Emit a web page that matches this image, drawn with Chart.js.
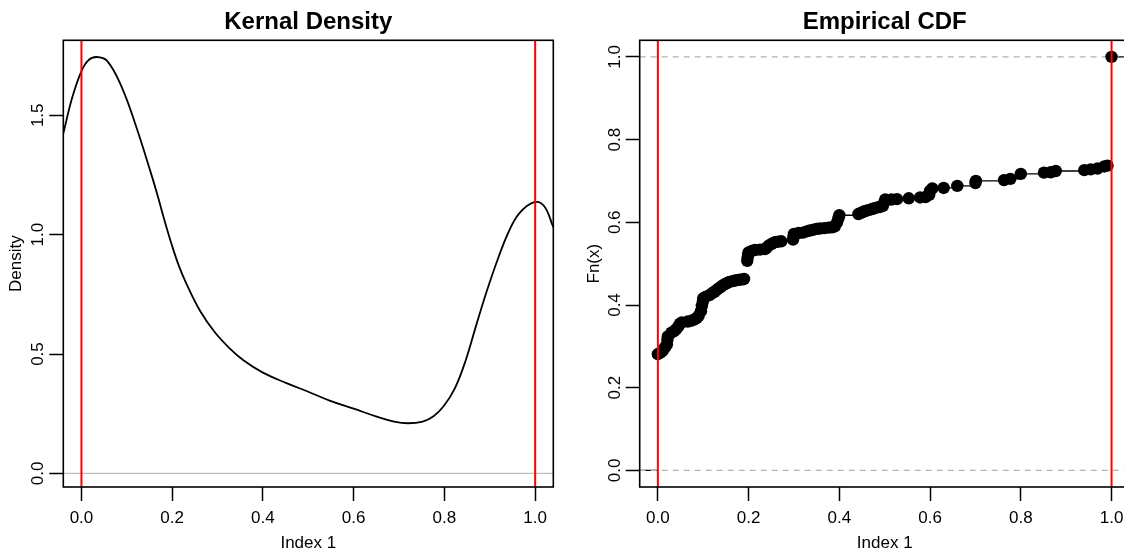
<!DOCTYPE html>
<html><head><meta charset="utf-8">
<script src="https://cdn.jsdelivr.net/npm/chart.js@4/dist/chart.umd.min.js"></script>
<style>
html,body{margin:0;padding:0;background:#fff;overflow:hidden;width:1124px;height:548px;position:relative;}
#wrapL{position:absolute;left:0;top:0;width:562px;height:548px;}
#wrapR{position:absolute;left:562px;top:0;width:600px;height:548px;}
canvas{display:block;}
</style></head><body>
<div id="wrapL"><canvas id="cL" width="562" height="548"></canvas></div>
<div id="wrapR"><canvas id="cR" width="600" height="548"></canvas></div>
<script>
// ---- texts ----
const densityTitle = 'Kernal Density';
const ecdfTitle = 'Empirical CDF';
const xAxisLabel = 'Index 1';
const densityYLabel = 'Density';
const ecdfYLabel = 'Fn(x)';

// ---- ticks ----
const xTicks = [0, 0.2, 0.4, 0.6, 0.8, 1.0];
const densityYTicks = [0, 0.5, 1.0, 1.5];
const ecdfYTicks = [0, 0.2, 0.4, 0.6, 0.8, 1.0];

// ---- kernel density curve ----
const densityX = [-0.04, -0.02, 0, 0.015, 0.033, 0.057, 0.089, 0.12, 0.152, 0.168, 0.183, 0.2, 0.215, 0.231, 0.262, 0.294, 0.326, 0.357, 0.4, 0.452, 0.5, 0.547, 0.6, 0.649, 0.689, 0.72, 0.752, 0.776, 0.799, 0.823, 0.847, 0.87, 0.894, 0.918, 0.941, 0.965, 0.998, 1.02, 1.04];
const densityY = [1.424, 1.576, 1.685, 1.73, 1.744, 1.727, 1.617, 1.456, 1.265, 1.163, 1.06, 0.952, 0.868, 0.796, 0.679, 0.591, 0.525, 0.474, 0.422, 0.378, 0.342, 0.305, 0.271, 0.239, 0.217, 0.21, 0.217, 0.239, 0.283, 0.356, 0.474, 0.62, 0.767, 0.899, 1.009, 1.089, 1.136, 1.119, 1.031];

// ---- empirical CDF ----
const ecdfX = [0, 0.006, 0.011, 0.016, 0.02, 0.021, 0.022, 0.03, 0.036, 0.04, 0.045, 0.049, 0.053, 0.066, 0.074, 0.081, 0.086, 0.09, 0.095, 0.097, 0.099, 0.1, 0.106, 0.114, 0.12, 0.125, 0.129, 0.134, 0.139, 0.144, 0.149, 0.154, 0.158, 0.166, 0.173, 0.18, 0.187, 0.19, 0.197, 0.198, 0.199, 0.2, 0.207, 0.214, 0.225, 0.236, 0.24, 0.245, 0.251, 0.258, 0.265, 0.272, 0.298, 0.299, 0.3, 0.31, 0.32, 0.328, 0.335, 0.343, 0.35, 0.357, 0.367, 0.376, 0.384, 0.39, 0.395, 0.398, 0.4, 0.442, 0.448, 0.454, 0.46, 0.466, 0.472, 0.478, 0.484, 0.49, 0.496, 0.499, 0.501, 0.515, 0.527, 0.553, 0.578, 0.59, 0.598, 0.6, 0.605, 0.63, 0.66, 0.7, 0.701, 0.763, 0.777, 0.8, 0.851, 0.866, 0.877, 0.94, 0.954, 0.969, 0.984, 0.991, 1];
const ecdfY = [0.281, 0.285, 0.29, 0.298, 0.305, 0.316, 0.324, 0.333, 0.337, 0.341, 0.348, 0.355, 0.358, 0.36, 0.362, 0.365, 0.369, 0.374, 0.385, 0.398, 0.408, 0.416, 0.42, 0.424, 0.429, 0.432, 0.436, 0.44, 0.444, 0.448, 0.451, 0.454, 0.456, 0.458, 0.46, 0.461, 0.462, 0.463, 0.507, 0.515, 0.522, 0.527, 0.531, 0.533, 0.534, 0.535, 0.539, 0.544, 0.548, 0.552, 0.553, 0.554, 0.558, 0.565, 0.572, 0.574, 0.575, 0.578, 0.58, 0.582, 0.584, 0.585, 0.586, 0.587, 0.588, 0.59, 0.6, 0.61, 0.617, 0.62, 0.623, 0.626, 0.628, 0.63, 0.632, 0.634, 0.636, 0.637, 0.64, 0.648, 0.655, 0.655, 0.656, 0.658, 0.66, 0.661, 0.666, 0.676, 0.682, 0.683, 0.688, 0.695, 0.7, 0.702, 0.705, 0.717, 0.72, 0.721, 0.724, 0.726, 0.728, 0.73, 0.735, 0.737, 1.0];

// ---- reference lines ----
const markerLines = [0, 1];        // red verticals
const densityRefLevel = [0];       // gray solid horizontal
const ecdfRefLevels = [0, 1];      // gray dashed horizontals

// ---- axis ranges ----
const xRange = [-0.04, 1.04];
const densityYRange = [-0.057, 1.814];
const ecdfYRange = [-0.04, 1.04];

const FONT = '"Liberation Sans", Arial, Helvetica, sans-serif';

const rPlot = {
  id: 'rPlot',
  afterDraw(chart, args, opts) {
    const {ctx, chartArea: a} = chart;
    const ys = chart.scales.y;
    ctx.save();
    ctx.strokeStyle = '#000';
    ctx.lineWidth = 1.6;
    ctx.strokeRect(a.left, a.top, a.right - a.left, a.bottom - a.top);
    ctx.fillStyle = '#000';
    ctx.font = '17px ' + FONT;
    ctx.textAlign = 'center';
    ctx.textBaseline = 'alphabetic';
    ys.ticks.forEach(t => {
      const y = ys.getPixelForValue(t.value);
      ctx.save();
      ctx.translate(a.left - 20, y);
      ctx.rotate(-Math.PI / 2);
      ctx.fillText(Number(t.value).toFixed(1), 0, 0);
      ctx.restore();
    });
    ctx.font = 'bold 24px ' + FONT;
    ctx.fillText(opts.title, (a.left + a.right) / 2, 29);
    ctx.restore();
  }
};

function xScaleOpts() {
  return {
    type: 'linear', min: xRange[0], max: xRange[1],
    afterBuildTicks: s => { s.ticks = xTicks.map(v => ({value: v})); },
    afterFit: s => { s.height = 61; },
    ticks: {autoSkip: false, maxRotation: 0, minRotation: 0, padding: 7, color: '#000',
            font: {family: FONT, size: 17}, callback: v => Number(v).toFixed(1)},
    grid: {display: true, drawOnChartArea: false, drawTicks: true, tickLength: 14,
           tickWidth: 1.5, tickColor: '#000', color: '#000'},
    border: {display: false},
    title: {display: true, text: xAxisLabel, color: '#000',
            font: {family: FONT, size: 17, lineHeight: 0.6}, padding: 0}
  };
}
function yScaleOpts(range, ticks, width, label, titlePad) {
  return {
    type: 'linear', min: range[0], max: range[1],
    afterBuildTicks: s => { s.ticks = ticks.map(v => ({value: v})); },
    afterFit: s => { s.width = width; },
    ticks: {display: false},
    grid: {display: true, drawOnChartArea: false, drawTicks: true, tickLength: 14,
           tickWidth: 1.5, tickColor: '#000', color: '#000'},
    border: {display: false},
    title: {display: true, text: label, color: '#000',
            font: {family: FONT, size: 17}, padding: {top: titlePad, bottom: 0}}
  };
}

function vLine(x, range) { return [{x: x, y: range[0]}, {x: x, y: range[1]}]; }
function hLine(y) { return [{x: xRange[0], y: y}, {x: xRange[1], y: y}]; }

// ---- left chart: kernel density ----
const densityData = densityX.map((x, i) => ({x: x, y: densityY[i]}));
const leftSets = [];
markerLines.forEach(m => leftSets.push({data: vLine(m, densityYRange), borderColor: '#ff0000', borderWidth: 2, pointRadius: 0, order: 0}));
leftSets.push({data: densityData, borderColor: '#000', borderWidth: 1.8, pointRadius: 0, tension: 0.4, order: 1});
densityRefLevel.forEach(l => leftSets.push({data: hLine(l), borderColor: '#bebebe', borderWidth: 1.2, pointRadius: 0, order: 2}));

new Chart(document.getElementById('cL'), {
  type: 'line',
  data: {datasets: leftSets},
  options: {
    responsive: false, animation: false, devicePixelRatio: 1,
    layout: {padding: {left: 0, right: 8.7, top: 40.3, bottom: 0}},
    plugins: {legend: {display: false}, tooltip: {enabled: false}, rPlot: {title: densityTitle}},
    scales: {x: xScaleOpts(), y: yScaleOpts(densityYRange, densityYTicks, 63.3, densityYLabel, 6)}
  },
  plugins: [rPlot]
});

// ---- right chart: empirical CDF ----
const stepData = [{x: xRange[0], y: 0}, {x: ecdfX[0], y: 0}, {x: ecdfX[0], y: null}];
ecdfX.forEach((x, i) => {
  const xn = i < ecdfX.length - 1 ? ecdfX[i + 1] : xRange[1];
  stepData.push({x: x, y: ecdfY[i]}, {x: xn, y: ecdfY[i]}, {x: xn, y: null});
});
const ecdfPoints = ecdfX.map((x, i) => ({x: x, y: ecdfY[i]}));
const rightSets = [];
markerLines.forEach(m => rightSets.push({data: vLine(m, ecdfYRange), borderColor: '#ff0000', borderWidth: 2, pointRadius: 0, order: 0}));
rightSets.push({data: ecdfPoints, showLine: false, pointRadius: 6.2, pointBackgroundColor: '#000', pointBorderWidth: 0, pointBorderColor: '#000', order: 1});
ecdfRefLevels.forEach(l => rightSets.push({data: hLine(l), borderColor: '#b3b3b3', borderWidth: 1.3, borderDash: [6, 5], pointRadius: 0, order: 2}));
rightSets.push({data: stepData, borderColor: '#000', borderWidth: 1.3, pointRadius: 0, spanGaps: false, order: 3});

new Chart(document.getElementById('cR'), {
  type: 'line',
  data: {datasets: rightSets},
  options: {
    responsive: false, animation: false, devicePixelRatio: 1,
    layout: {padding: {left: 0, right: 32.3, top: 40.3, bottom: 0}},
    plugins: {legend: {display: false}, tooltip: {enabled: false}, rPlot: {title: ecdfTitle}},
    scales: {x: xScaleOpts(), y: yScaleOpts(ecdfYRange, ecdfYTicks, 77.7, ecdfYLabel, 22.5)}
  },
  plugins: [rPlot]
});
</script>
</body></html>
